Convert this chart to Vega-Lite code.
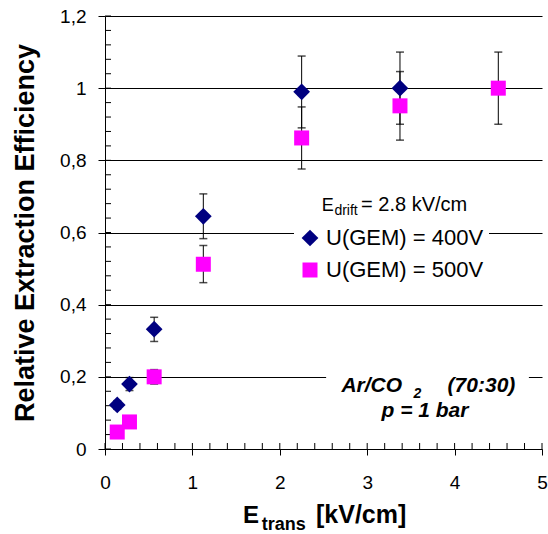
{
  "$schema": "https://vega.github.io/schema/vega-lite/v6.json",
  "autosize": "none",
  "width": 437,
  "height": 433,
  "padding": {"left": 105, "top": 16, "right": 6, "bottom": 85},
  "background": "white",
  "config": {
    "view": {"stroke": null},
    "font": "Liberation Sans",
    "axis": {
      "domainColor": "black", "domainWidth": 1, "tickColor": "black", "tickWidth": 1,
      "labelColor": "black", "labelFont": "Liberation Sans", "labelFontSize": 19,
      "titleColor": "black", "titleFont": "Liberation Sans"
    }
  },
  "datasets": {
    "pts": [
      {"s": "U(GEM) = 400V", "x": 0.14, "y": 0.122, "lo": 0.11, "hi": 0.134},
      {"s": "U(GEM) = 400V", "x": 0.28, "y": 0.18, "lo": 0.162, "hi": 0.198},
      {"s": "U(GEM) = 400V", "x": 0.5625, "y": 0.332, "lo": 0.298, "hi": 0.365},
      {"s": "U(GEM) = 400V", "x": 1.125, "y": 0.645, "lo": 0.583, "hi": 0.707},
      {"s": "U(GEM) = 400V", "x": 2.25, "y": 0.99, "lo": 0.89, "hi": 1.089},
      {"s": "U(GEM) = 400V", "x": 3.375, "y": 1.0, "lo": 0.9, "hi": 1.1},
      {"s": "U(GEM) = 500V", "x": 0.14, "y": 0.047, "lo": 0.042, "hi": 0.052},
      {"s": "U(GEM) = 500V", "x": 0.28, "y": 0.075, "lo": 0.068, "hi": 0.082},
      {"s": "U(GEM) = 500V", "x": 0.5625, "y": 0.2, "lo": 0.18, "hi": 0.22},
      {"s": "U(GEM) = 500V", "x": 1.125, "y": 0.512, "lo": 0.461, "hi": 0.564},
      {"s": "U(GEM) = 500V", "x": 2.25, "y": 0.862, "lo": 0.776, "hi": 0.948},
      {"s": "U(GEM) = 500V", "x": 3.375, "y": 0.951, "lo": 0.856, "hi": 1.046},
      {"s": "U(GEM) = 500V", "x": 4.5, "y": 1.0, "lo": 0.9, "hi": 1.1}
    ],
    "yticks": [
      {"v": 0}, {"v": 0.04}, {"v": 0.08}, {"v": 0.12}, {"v": 0.16}, {"v": 0.2},
      {"v": 0.24}, {"v": 0.28}, {"v": 0.32}, {"v": 0.36}, {"v": 0.4},
      {"v": 0.44}, {"v": 0.48}, {"v": 0.52}, {"v": 0.56}, {"v": 0.6},
      {"v": 0.64}, {"v": 0.68}, {"v": 0.72}, {"v": 0.76}, {"v": 0.8},
      {"v": 0.84}, {"v": 0.88}, {"v": 0.92}, {"v": 0.96}, {"v": 1.0},
      {"v": 1.04}, {"v": 1.08}, {"v": 1.12}, {"v": 1.16}, {"v": 1.2}
    ],
    "xticks": [
      {"v": 0}, {"v": 0.2}, {"v": 0.4}, {"v": 0.6}, {"v": 0.8}, {"v": 1.0},
      {"v": 1.2}, {"v": 1.4}, {"v": 1.6}, {"v": 1.8}, {"v": 2.0},
      {"v": 2.2}, {"v": 2.4}, {"v": 2.6}, {"v": 2.8}, {"v": 3.0},
      {"v": 3.2}, {"v": 3.4}, {"v": 3.6}, {"v": 3.8}, {"v": 4.0},
      {"v": 4.2}, {"v": 4.4}, {"v": 4.6}, {"v": 4.8}, {"v": 5.0}
    ]
  },
  "layer": [
    {
      "data": {"values": [{}]},
      "mark": {"type": "rect", "color": "white"},
      "encoding": {
        "x": {"datum": 2.53, "type": "quantitative", "scale": {"domain": [0, 5], "nice": false, "zero": false},
              "axis": {"values": [0, 1, 2, 3, 4, 5], "tickSize": 6, "labelPadding": 18, "grid": false, "title": null, "labelFlush": false,
                       "labelExpr": "format(datum.value, '~g')"}},
        "x2": {"datum": 4.85},
        "y": {"datum": 0.17, "type": "quantitative", "scale": {"domain": [0, 1.2], "nice": false, "zero": false},
              "title": "Relative Extraction Efficiency",
              "axis": {"values": [0, 0.2, 0.4, 0.6, 0.8, 1, 1.2], "tickSize": 7, "labelPadding": 12,
                       "grid": true, "gridColor": "black", "gridWidth": 1, "gridOpacity": 1,
                       "labelExpr": "replace(format(datum.value, '~g'), '.', ',')", "labelFlush": false,
                       "title": "Relative Extraction Efficiency", "titleFontSize": 27, "titleFontWeight": "bold",
                       "titleX": -80, "titleY": 216.5, "titleAngle": -90, "titleAlign": "center", "titleBaseline": "middle"}},
        "y2": {"datum": 0.23}
      }
    },
    {
      "data": {"name": "yticks"},
      "mark": {"type": "rule", "color": "black", "strokeWidth": 1},
      "encoding": {
        "x": {"datum": 0, "type": "quantitative", "title": null},
        "x2": {"datum": 0.0687},
        "y": {"field": "v", "type": "quantitative", "title": "Relative Extraction Efficiency"}
      }
    },
    {
      "data": {"name": "xticks"},
      "mark": {"type": "rule", "color": "black", "strokeWidth": 1},
      "encoding": {
        "x": {"field": "v", "type": "quantitative", "title": null},
        "y": {"datum": 0, "type": "quantitative", "title": "Relative Extraction Efficiency"},
        "y2": {"datum": 0.0166}
      }
    },
    {
      "data": {"name": "pts"},
      "mark": {"type": "errorbar", "ticks": {"size": 8, "thickness": 1.5, "color": "black"}, "rule": {"color": "black", "strokeWidth": 1}},
      "encoding": {
        "x": {"field": "x", "type": "quantitative", "title": null},
        "y": {"field": "lo", "type": "quantitative", "title": "Relative Extraction Efficiency"},
        "y2": {"field": "hi"}
      }
    },
    {
      "data": {"name": "pts"},
      "mark": {"type": "point", "filled": true, "opacity": 1, "strokeWidth": 0},
      "encoding": {
        "x": {"field": "x", "type": "quantitative", "title": null},
        "y": {"field": "y", "type": "quantitative", "title": "Relative Extraction Efficiency"},
        "color": {"field": "s", "type": "nominal",
                  "scale": {"domain": ["U(GEM) = 400V", "U(GEM) = 500V"], "range": ["#000080", "#FF00FF"]},
                  "legend": {"orient": "none", "legendX": 189, "legendY": 206, "title": null, "fillColor": "white",
                             "padding": 5, "labelFontSize": 22, "labelColor": "black", "labelFont": "Liberation Sans",
                             "symbolSize": 240, "rowPadding": 10, "labelOffset": 5, "symbolStrokeWidth": 0, "symbolOpacity": 1}},
        "shape": {"field": "s", "type": "nominal",
                  "scale": {"domain": ["U(GEM) = 400V", "U(GEM) = 500V"], "range": ["diamond", "square"]}},
        "size": {"field": "s", "type": "nominal",
                 "scale": {"domain": ["U(GEM) = 400V", "U(GEM) = 500V"], "range": [280, 225]}, "legend": null}
      }
    },
    {
      "data": {"values": [{}]},
      "mark": {"type": "text", "text": "E", "align": "left", "baseline": "alphabetic", "fontSize": 24, "fontWeight": "bold", "color": "black"},
      "encoding": {"x": {"datum": 1.579}, "y": {"datum": -0.206}}
    },
    {
      "data": {"values": [{}]},
      "mark": {"type": "text", "text": "trans", "align": "left", "baseline": "alphabetic", "fontSize": 18, "fontWeight": "bold", "color": "black"},
      "encoding": {"x": {"datum": 1.793}, "y": {"datum": -0.2245}}
    },
    {
      "data": {"values": [{}]},
      "mark": {"type": "text", "text": "[kV/cm]", "align": "left", "baseline": "alphabetic", "fontSize": 25, "fontWeight": "bold", "color": "black"},
      "encoding": {"x": {"datum": 2.414}, "y": {"datum": -0.206}}
    },
    {
      "data": {"values": [{}]},
      "mark": {"type": "text", "text": "E", "align": "left", "baseline": "alphabetic", "fontSize": 18, "color": "black"},
      "encoding": {"x": {"datum": 2.48}, "y": {"datum": 0.6605}}
    },
    {
      "data": {"values": [{}]},
      "mark": {"type": "text", "text": "drift", "align": "left", "baseline": "alphabetic", "fontSize": 14, "color": "black"},
      "encoding": {"x": {"datum": 2.625}, "y": {"datum": 0.6485}}
    },
    {
      "data": {"values": [{}]},
      "mark": {"type": "text", "text": "= 2.8 kV/cm", "align": "left", "baseline": "alphabetic", "fontSize": 20, "color": "black"},
      "encoding": {"x": {"datum": 2.93}, "y": {"datum": 0.6605}}
    },
    {
      "data": {"values": [{}]},
      "mark": {"type": "text", "text": "Ar/CO", "align": "left", "baseline": "alphabetic", "fontSize": 21, "fontWeight": "bold", "fontStyle": "italic", "color": "black"},
      "encoding": {"x": {"datum": 2.705}, "y": {"datum": 0.1588}}
    },
    {
      "data": {"values": [{}]},
      "mark": {"type": "text", "text": "2", "align": "left", "baseline": "alphabetic", "fontSize": 14, "fontWeight": "bold", "fontStyle": "italic", "color": "black"},
      "encoding": {"x": {"datum": 3.53}, "y": {"datum": 0.1413}}
    },
    {
      "data": {"values": [{}]},
      "mark": {"type": "text", "text": "(70:30)", "align": "left", "baseline": "alphabetic", "fontSize": 21, "fontWeight": "bold", "fontStyle": "italic", "color": "black"},
      "encoding": {"x": {"datum": 3.92}, "y": {"datum": 0.1588}}
    },
    {
      "data": {"values": [{}]},
      "mark": {"type": "text", "text": "p = 1 bar", "align": "center", "baseline": "alphabetic", "fontSize": 21, "fontWeight": "bold", "fontStyle": "italic", "color": "black"},
      "encoding": {"x": {"datum": 3.661}, "y": {"datum": 0.0895}}
    }
  ]
}
